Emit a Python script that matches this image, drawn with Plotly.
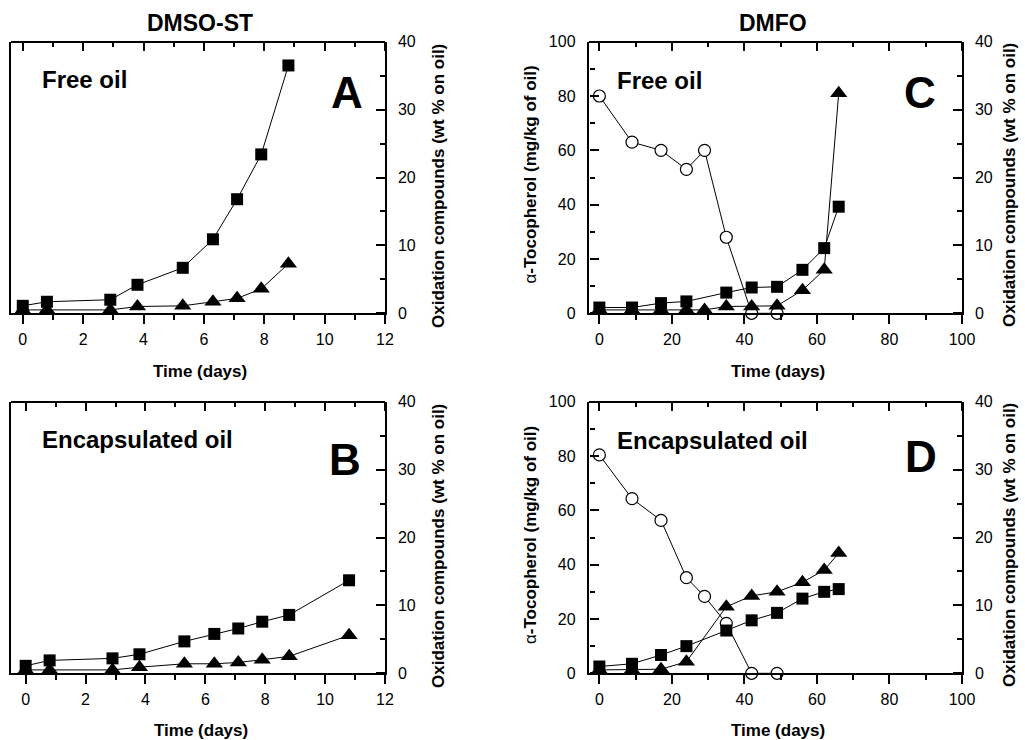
import plotly.graph_objects as go

W, H = 1025, 740
FONT = "Liberation Sans, Arial, Helvetica, sans-serif"

# ---------------- data ----------------
# DMSO-ST (panels A, B)
days_st_A = [0, 0.8, 2.9, 3.8, 5.3, 6.3, 7.1, 7.9, 8.8]
A_polar = [1.1, 1.7, 2.0, 4.2, 6.7, 10.9, 16.8, 23.4, 36.5]      # squares
A_poly = [0.5, 0.5, 0.5, 1.0, 1.1, 1.7, 2.2, 3.6, 7.3]            # triangles

days_st_B = [0, 0.8, 2.9, 3.8, 5.3, 6.3, 7.1, 7.9, 8.8, 10.8]
B_polar = [1.1, 1.9, 2.2, 2.8, 4.7, 5.8, 6.6, 7.6, 8.6, 13.7]
B_poly = [0.5, 0.5, 0.5, 0.9, 1.4, 1.4, 1.6, 2.0, 2.5, 5.6]

# DMFO (panels C, D)
days_toc = [0, 9, 17, 24, 29, 35, 42, 49]
C_toc = [80, 63, 60, 53, 60, 28, 0, 0]                            # open circles
D_toc = [80.4, 64.3, 56.3, 35.2, 28.3, 18.4, 0, 0]

days_C_sq = [0, 9, 17, 24, 35, 42, 49, 56, 62, 66]
C_polar = [0.85, 0.85, 1.5, 1.75, 3.05, 3.8, 3.9, 6.4, 9.6, 15.7]
days_C_tri = [0, 9, 17, 24, 29, 35, 42, 49, 56, 62, 66]
C_poly = [0.5, 0.5, 0.5, 0.5, 0.5, 1.0, 1.0, 1.1, 3.4, 6.4, 32.4]

days_D = [0, 9, 17, 24, 35, 42, 49, 56, 62, 66]
D_polar = [1.0, 1.4, 2.7, 4.0, 6.3, 7.8, 8.9, 11.0, 12.0, 12.4]
D_poly = [0.5, 0.5, 0.6, 1.7, 9.8, 11.4, 12.0, 13.4, 15.2, 17.7]

x_ticks_st = [0, 2, 4, 6, 8, 10, 12]
x_ticks_fo = [0, 20, 40, 60, 80, 100]

# ---------------- layout helpers ----------------
def px(x):
    return x / W

def py(y):
    return 1 - y / H

def aid(k):
    return "" if k == 1 else str(k)

# frames in pixels: (left, right, top, bottom)
frames = {
    1: (10.7, 385.0, 41.7, 313.3),   # A
    2: (10.7, 385.0, 401.7, 673.3),  # B
    3: (588.5, 962.0, 41.7, 313.3),  # C
    4: (588.5, 962.0, 401.7, 673.3), # D
}
xranges = {1: [-0.4, 12], 2: [-0.5, 12], 3: [-3, 100], 4: [-3, 100]}

fig = go.Figure()
layout = dict(
    width=W, height=H,
    margin=dict(l=0, r=0, t=0, b=0, pad=0),
    paper_bgcolor="white", plot_bgcolor="rgba(0,0,0,0)",
    showlegend=False,
    font=dict(family=FONT, color="black", size=14),
)

LW = 1.5
TF = dict(size=16, family=FONT, color="black")
MAJ, MIN = 9, 5

def tickset(major_vals, dmin):
    return dict(
        ticks="outside", ticklen=MAJ, tickwidth=LW, tickcolor="black",
        tickmode="array", tickvals=major_vals,
        minor=dict(ticks="outside", ticklen=MIN, tickwidth=LW, tickcolor="black",
                   tickmode="linear", tick0=0, dtick=dmin),
    )

def placeholder(xa, ya):
    fig.add_trace(go.Scatter(x=[None], y=[None], xaxis=xa, yaxis=ya,
                             mode="markers", hoverinfo="skip", showlegend=False))

for n, (l, r, t, b) in frames.items():
    xd = [px(l), px(r)]
    yd = [py(b), py(t)]
    st = n in (1, 2)
    xvals = x_ticks_st if st else x_ticks_fo
    dmin = 1 if st else 10
    xb, xt = aid(n), aid(n + 4)
    yl, yr = aid(n), aid(n + 4)
    yrt = aid(n + 8)            # right-side inward ticks
    ylt = aid(n + 12)           # left-side inward ticks (C, D)
    # bottom x axis: outward ticks + labels
    layout[f"xaxis{xb}"] = dict(
        domain=xd, range=xranges[n], anchor=f"y{yl}", side="bottom",
        showline=True, linecolor="black", linewidth=LW,
        showgrid=False, zeroline=False, automargin=False,
        tickfont=TF, ticklabelstandoff=2, **tickset(xvals, dmin),
    )
    # top frame: a bottom-side axis placed at the top edge -> ticks point inward
    layout[f"xaxis{xt}"] = dict(
        domain=xd, range=xranges[n], anchor="free", position=py(t),
        side="bottom", overlaying=f"x{xb}",
        showline=True, linecolor="black", linewidth=LW,
        showticklabels=False, showgrid=False, zeroline=False, automargin=False,
        **tickset(xvals, dmin),
    )
    placeholder(f"x{xt}", f"y{yl}")
    # left y axis
    if st:
        layout[f"yaxis{yl}"] = dict(
            domain=yd, range=[0, 100], anchor=f"x{xb}", side="left",
            showline=True, linecolor="black", linewidth=LW,
            ticks="", showticklabels=False, showgrid=False, zeroline=False,
            automargin=False,
        )
    else:
        layout[f"yaxis{yl}"] = dict(
            domain=yd, range=[0, 100], anchor=f"x{xb}", side="left",
            showline=True, linecolor="black", linewidth=LW,
            ticks="", tickmode="linear", tick0=0, dtick=20,
            showgrid=False, zeroline=False, automargin=False,
            tickfont=TF, ticklabelstandoff=8,
        )
        # inward ticks on the left edge: right-side axis placed at the left edge
        layout[f"yaxis{ylt}"] = dict(
            domain=yd, range=[0, 100], anchor="free", position=px(l),
            side="right", overlaying=f"y{yl}",
            showline=False, showticklabels=False, showgrid=False,
            zeroline=False, automargin=False,
            **tickset([0, 20, 40, 60, 80, 100], 10),
        )
        placeholder(f"x{xb}", f"y{ylt}")
    # right y axis labels
    layout[f"yaxis{yr}"] = dict(
        domain=yd, range=[0, 40], anchor=f"x{xb}", side="right",
        overlaying=f"y{yl}",
        showline=True, linecolor="black", linewidth=LW,
        ticks="", tickmode="linear", tick0=0, dtick=10,
        showgrid=False, zeroline=False, automargin=False,
        tickfont=TF, ticklabelstandoff=8,
    )
    # inward ticks on the right edge: left-side axis placed at the right edge
    layout[f"yaxis{yrt}"] = dict(
        domain=yd, range=[0, 40], anchor="free", position=px(r),
        side="left", overlaying=f"y{yl}",
        showline=False, showticklabels=False, showgrid=False,
        zeroline=False, automargin=False,
        **tickset([0, 10, 20, 30, 40], 5),
    )
    placeholder(f"x{xb}", f"y{yrt}")
    placeholder(f"x{xb}", f"y{yl}")

LINE = dict(color="black", width=1)
SQ = dict(symbol="square", size=12, color="black", line=dict(width=0))
TRI = dict(symbol="triangle-up", size=15, color="black", line=dict(width=0))
CIR = dict(symbol="circle", size=12, color="white", line=dict(color="black", width=1.2))

def add(xs, ys, n, right, marker):
    fig.add_trace(go.Scatter(
        x=xs, y=ys, mode="lines+markers", line=LINE, marker=marker,
        xaxis=f"x{aid(n)}", yaxis=f"y{aid(n + 4)}" if right else f"y{aid(n)}",
        cliponaxis=False, showlegend=False,
    ))

# A
add(days_st_A, A_poly, 1, True, TRI)
add(days_st_A, A_polar, 1, True, SQ)
# B
add(days_st_B, B_poly, 2, True, TRI)
add(days_st_B, B_polar, 2, True, SQ)
# C
add(days_C_tri, C_poly, 3, True, TRI)
add(days_C_sq, C_polar, 3, True, SQ)
add(days_toc, C_toc, 3, False, CIR)
# D
add(days_D, D_poly, 4, True, TRI)
add(days_D, D_polar, 4, True, SQ)
add(days_toc, D_toc, 4, False, CIR)

ann = []

def text(x, y, s, size, bold=True, angle=0, xanchor="center"):
    ann.append(dict(
        x=px(x), y=py(y), xref="paper", yref="paper", text=s, showarrow=False,
        xanchor=xanchor, yanchor="middle", textangle=angle,
        font=dict(family=FONT, size=size, color="black",
                  weight="bold" if bold else "normal"),
    ))

# column titles
text(200, 23, "DMSO-ST", 23)
text(773, 23, "DMFO", 23)
# panel labels
text(40, 79, "Free oil", 24, xanchor="left")
text(40, 439, "Encapsulated oil", 24, xanchor="left")
text(615, 80, "Free oil", 24, xanchor="left")
text(615, 440, "Encapsulated oil", 24, xanchor="left")
text(347, 92, "A", 44)
text(345, 459, "B", 44)
text(920, 92, "C", 44)
text(921, 456, "D", 44)
# x titles
for (xc, yc) in [(200, 371), (778, 371), (201, 730), (778, 730)]:
    text(xc, yc, "Time (days)", 17)
# right titles
for (xc, yc) in [(438, 186), (1009, 185), (438, 546), (1009, 545)]:
    text(xc, yc, "Oxidation compounds (wt % on oil)", 17, angle=-90)
# left titles
for (xc, yc) in [(529.5, 175), (530, 535)]:
    text(xc, yc, "<span style='font-weight:normal'>α</span>-Tocopherol (mg/kg of oil)", 17, angle=-90)

layout["annotations"] = ann
fig.update_layout(**layout)
fig.write_html("out.html", config={"displayModeBar": False},
               post_script="document.body.style.margin='0';document.body.style.overflow='hidden';")
